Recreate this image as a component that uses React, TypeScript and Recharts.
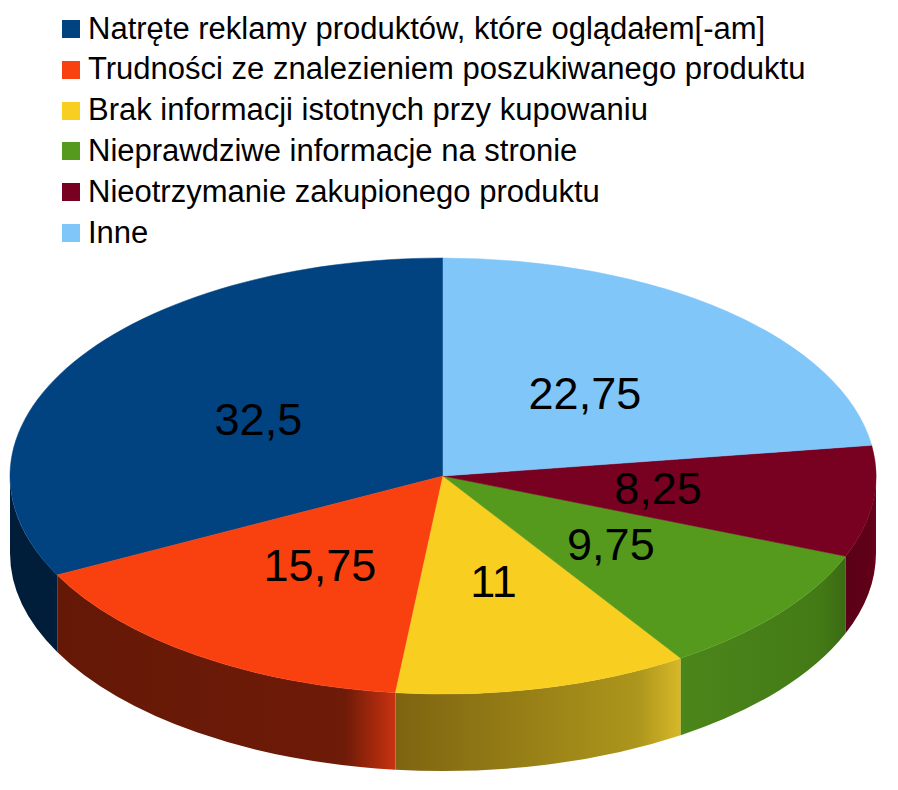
import { PieChart, Pie, Cell, Legend } from 'recharts';

// Chart data (values in %)
const categories = [
  'Natręte reklamy produktów, które oglądałem[-am]',
  'Trudności ze znalezieniem poszukiwanego produktu',
  'Brak informacji istotnych przy kupowaniu',
  'Nieprawdziwe informacje na stronie',
  'Nieotrzymanie zakupionego produktu',
  'Inne',
];
const values = [32.5, 15.75, 11, 9.75, 8.25, 22.75];
const valueLabels = ['32,5', '15,75', '11', '9,75', '8,25', '22,75'];

// styling
const topColors = ['#014281', '#f94110', '#f8ce20', '#559a1c', '#780021', '#80c6f8'];
const wallStops = [
  ['#001d3a', '#001d3a', '#001d3a'],
  ['#651806', '#6e1b08', '#c83210'],
  ['#7e6410', '#ad961c', '#d8b828'],
  ['#4b861a', '#437a16', '#3a6a12'],
  ['#5a0018', '#600019', '#6e0020'],
  ['#5a8ab0', '#5a8ab0', '#5a8ab0'],
];

const data = categories.map((name, i) => ({ name, value: values[i] }));

const FONT = '"Liberation Sans", Arial, sans-serif';
const TILT = 218 / 433;
const DEPTH = 77;

const pt = (cx: number, cy: number, rx: number, ry: number, a: number) => {
  const r = (a * Math.PI) / 180;
  return [cx + rx * Math.cos(r), cy - ry * Math.sin(r)];
};

function Slice3D(props: any) {
  const { cx, cy, outerRadius, startAngle, endAngle } = props;
  let idx = categories.indexOf(props.name ?? props.payload?.name);
  if (idx < 0) idx = props.index ?? 0;
  const rx = outerRadius;
  const ry = outerRadius * TILT;
  const s = Math.min(startAngle, endAngle);
  const e = Math.max(startAngle, endAngle);
  const [x1, y1] = pt(cx, cy, rx, ry, s);
  const [x2, y2] = pt(cx, cy, rx, ry, e);
  const large = e - s > 180 ? 1 : 0;
  const top = `M${cx},${cy} L${x1},${y1} A${rx},${ry} 0 ${large} 0 ${x2},${y2} Z`;

  // front wall: visible part is between 180 and 360 degrees
  const a = Math.max(s, 180);
  const b = Math.min(e, 360);
  let wall = null;
  if (a < b) {
    const [wx1, wy1] = pt(cx, cy, rx, ry, a);
    const [wx2, wy2] = pt(cx, cy, rx, ry, b);
    const d = `M${wx1},${wy1} A${rx},${ry} 0 0 0 ${wx2},${wy2} L${wx2},${wy2 + DEPTH} A${rx},${ry} 0 0 1 ${wx1},${wy1 + DEPTH} Z`;
    const st = wallStops[idx];
    wall = (
      <g>
        <defs>
          <linearGradient id={`wall-${idx}`} x1="0" y1="0" x2="1" y2="0">
            <stop offset="0%" stopColor={st[0]} />
            <stop offset="85%" stopColor={st[1]} />
            <stop offset="100%" stopColor={st[2]} />
          </linearGradient>
        </defs>
        <path d={d} fill={`url(#wall-${idx})`} stroke="none" />
      </g>
    );
  }
  return (
    <g>
      {wall}
      <path d={top} fill={topColors[idx]} stroke={topColors[idx]} strokeWidth={0.5} />
    </g>
  );
}

function renderLabel(props: any) {
  const { cx, cy, outerRadius, midAngle } = props;
  let idx = categories.indexOf(props.name ?? props.payload?.name);
  if (idx < 0) idx = props.index ?? 0;
  const [x, y] = pt(cx, cy, outerRadius * 0.5, outerRadius * TILT * 0.5, midAngle);
  return (
    <text x={x} y={y} textAnchor="middle" dominantBaseline="central" fill="#000" fontSize={45} fontFamily={FONT}>
      {valueLabels[idx]}
    </text>
  );
}

function LegendBox() {
  return (
    <div style={{ fontFamily: FONT, fontSize: 31, color: '#000' }}>
      {categories.map((c, i) => (
        <div key={c} style={{ display: 'flex', alignItems: 'center', height: 40.8 }}>
          <span style={{ width: 18, height: 18, background: topColors[i], marginRight: 8, flexShrink: 0 }} />
          <span style={{ lineHeight: '40.8px', whiteSpace: 'nowrap' }}>{c}</span>
        </div>
      ))}
    </div>
  );
}

export default function App() {
  return (
    <div style={{ width: 898, height: 790, background: '#fff' }}>
      <style>{'body{margin:0;}'}</style>
      <PieChart width={898} height={790} margin={{ top: 0, right: 0, bottom: 0, left: 0 }}>
        <Pie
          data={data}
          dataKey="value"
          nameKey="name"
          cx={443}
          cy={476}
          outerRadius={433}
          startAngle={90}
          endAngle={450}
          stroke="none"
          shape={Slice3D}
          label={renderLabel}
          labelLine={false}
          isAnimationActive={false}
        >
          {data.map((d, i) => (
            <Cell key={d.name} fill={topColors[i]} />
          ))}
        </Pie>
        <Legend
          layout="horizontal"
          verticalAlign="middle"
          align="center"
          content={<LegendBox />}
          wrapperStyle={{ top: 8.6, left: 62, width: 'auto' }}
        />
      </PieChart>
    </div>
  );
}
